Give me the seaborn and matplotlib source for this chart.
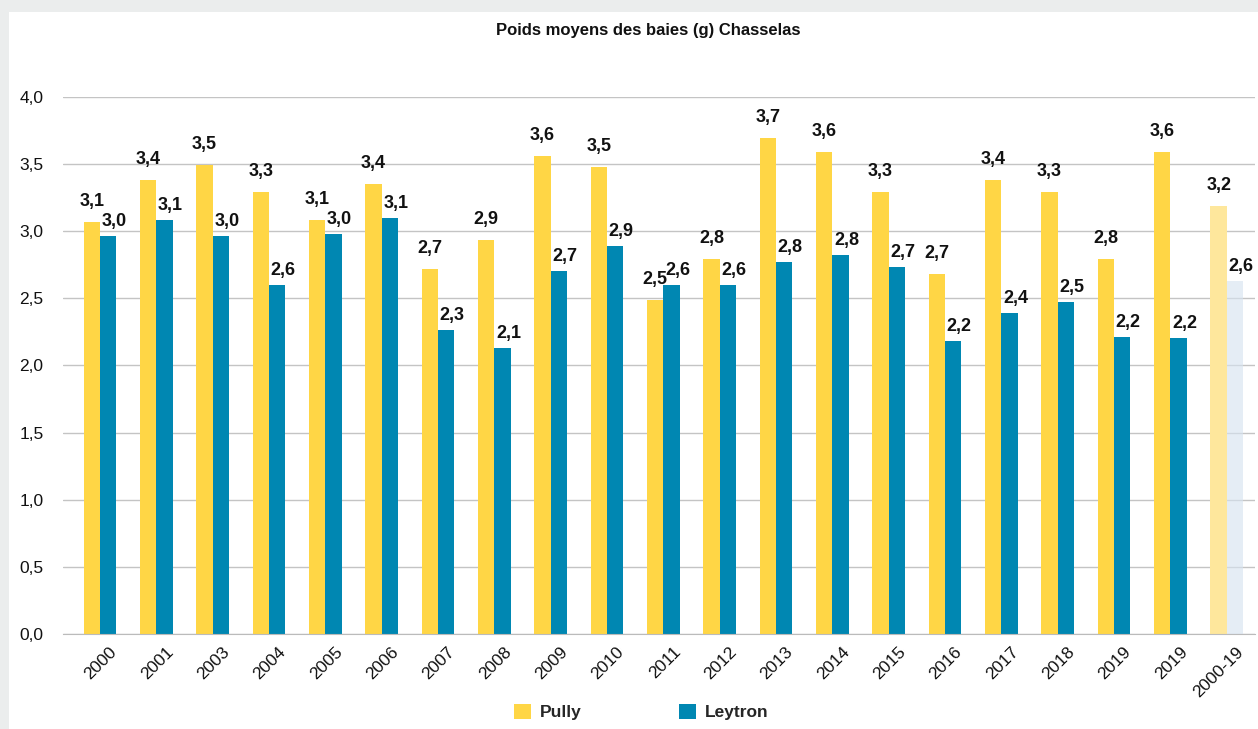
import numpy as np
import pandas as pd
import matplotlib
matplotlib.use("Agg")
import matplotlib.pyplot as plt
from matplotlib.patches import Patch, Rectangle
import seaborn as sns

# Data
years = ["2000", "2001", "2003", "2004", "2005", "2006", "2007", "2008", "2009", "2010",
         "2011", "2012", "2013", "2014", "2015", "2016", "2017", "2018", "2019", "2019",
         "2000-19"]
pully = [3.07, 3.38, 3.49, 3.29, 3.08, 3.35, 2.72, 2.93, 3.56, 3.48,
         2.49, 2.79, 3.69, 3.59, 3.29, 2.68, 3.38, 3.29, 2.79, 3.59, 3.19]
leytron = [2.96, 3.08, 2.96, 2.60, 2.98, 3.10, 2.26, 2.13, 2.70, 2.89,
           2.60, 2.60, 2.77, 2.82, 2.73, 2.18, 2.39, 2.47, 2.21, 2.20, 2.63]

YELLOW = "#FFD645"
BLUE = "#0087B2"
PALE_YELLOW = "#FEE79C"
PALE_BLUE = (0.84, 0.89, 0.94, 0.62)

sns.set_style("white")
plt.rcParams["font.family"] = ["Liberation Sans", "DejaVu Sans"]

n = len(years)
df = pd.DataFrame({
    "pos": list(range(n)) * 2,
    "site": ["Pully"] * n + ["Leytron"] * n,
    "value": pully + leytron,
})

fig = plt.figure(figsize=(12.58, 7.29), dpi=100)
fig.patch.set_facecolor("#EBEDED")
fig.add_artist(Rectangle((9 / 1258, 0), 1, (729 - 12) / 729, transform=fig.transFigure,
                         facecolor="white", edgecolor="none", zorder=-10))

ax = fig.add_axes([63 / 1258, (729 - 634) / 729, (1255 - 63) / 1258, (634 - 96.7) / 729])
ax.set_facecolor("none")

sns.barplot(data=df, x="pos", y="value", hue="site", hue_order=["Pully", "Leytron"],
            palette={"Pully": YELLOW, "Leytron": BLUE}, width=0.58, saturation=1,
            linewidth=0, legend=False, ax=ax, zorder=2)

# last group (average) in pale colours
ax.containers[0][n - 1].set_facecolor(PALE_YELLOW)
ax.containers[1][n - 1].set_facecolor(PALE_BLUE)

# value labels
for i, cont in enumerate(ax.containers):
    dx, dy = (0, 16) if i == 0 else (6, 10)
    for bar in cont:
        h = bar.get_height()
        ax.annotate(f"{h:.1f}".replace(".", ","),
                    (bar.get_x() + bar.get_width() / 2, h),
                    xytext=(dx, dy), textcoords="offset pixels",
                    ha="center", va="baseline", fontsize=13, fontweight="bold",
                    color="#111111")

ax.set_ylim(0, 4)
ax.set_xlim(-0.655, n - 1 + 0.44)
ax.set_yticks(np.arange(0, 4.01, 0.5))
ax.set_yticklabels([f"{v:.1f}".replace(".", ",") for v in np.arange(0, 4.01, 0.5)])
ax.yaxis.grid(True, color="#C4C4C4", linewidth=1, zorder=0)
ax.set_axisbelow(True)
ax.set_xlabel("")
ax.set_ylabel("")

# year labels sit slightly right of the bar pair
ax.set_xticks(np.arange(n) + 0.26)
ax.set_xticklabels(years, rotation=45, ha="right", va="center", rotation_mode="anchor")
ax.set_xticks(np.arange(-0.5, n, 1), minor=True)
ax.tick_params(axis="x", which="major", length=0, pad=11, labelsize=12.5, colors="#111111")
ax.tick_params(axis="x", which="minor", length=6, color="#BBBBBB", width=1)
ax.tick_params(axis="y", length=0, pad=14, labelsize=12.5, colors="#111111")

for side in ["top", "right", "left"]:
    ax.spines[side].set_visible(False)
ax.spines["bottom"].set_color("#BBBBBB")

fig.text(648 / 1258, (729 - 31) / 729, "Poids moyens des baies (g) Chasselas",
         ha="center", va="center", fontsize=12, fontweight="bold", color="#111111")

handles = [Patch(facecolor=YELLOW, edgecolor="none"), Patch(facecolor=BLUE, edgecolor="none")]
fig.legend(handles, ["Pully", "Leytron"], loc="center", bbox_to_anchor=(641 / 1258, (729 - 712) / 729),
           ncol=2, frameon=False, handlelength=1.0, handleheight=1.0, handletextpad=0.5,
           columnspacing=5.6, prop={"weight": "bold", "size": 12.5})

fig.savefig("out.png", dpi=100, facecolor=fig.get_facecolor())
